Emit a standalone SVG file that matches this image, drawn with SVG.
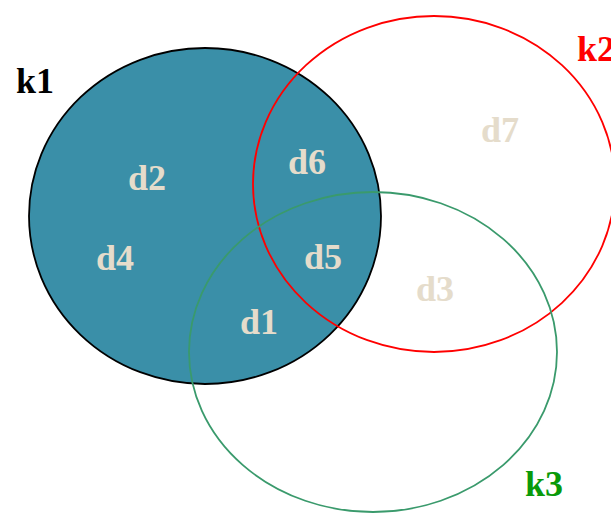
<svg xmlns="http://www.w3.org/2000/svg" width="611" height="514" viewBox="0 0 611 514">
<style>
.lbl{font-family:"Liberation Serif","Times New Roman",serif;font-weight:bold;font-size:36px}
.d{fill:#e5dccb}
</style>
<rect width="611" height="514" fill="#ffffff"/>
<g id="k1">
<ellipse cx="205" cy="216" rx="176" ry="168" fill="#3a8fa8" stroke="#000000" stroke-width="1.8"/>
<text class="lbl" x="16" y="93" fill="#000000">k1</text>
</g>
<g id="k2">
<ellipse cx="434" cy="184" rx="181" ry="168" fill="none" stroke="#ff0000" stroke-width="1.8"/>
<text class="lbl" x="577" y="61" fill="#ff0000">k2</text>
</g>
<g id="k3">
<ellipse cx="373" cy="352" rx="184" ry="160" fill="none" stroke="#3a9a6c" stroke-width="1.8"/>
<text class="lbl" x="525" y="496" fill="#0a9a0a">k3</text>
</g>
<g id="d2"><text class="lbl d" x="128" y="190">d2</text></g>
<g id="d4"><text class="lbl d" x="96" y="270">d4</text></g>
<g id="d6"><text class="lbl d" x="288" y="174">d6</text></g>
<g id="d5"><text class="lbl d" x="304" y="269">d5</text></g>
<g id="d1"><text class="lbl d" x="240" y="334">d1</text></g>
<g id="d3"><text class="lbl d" x="416" y="301">d3</text></g>
<g id="d7"><text class="lbl d" x="481" y="142">d7</text></g>
</svg>
